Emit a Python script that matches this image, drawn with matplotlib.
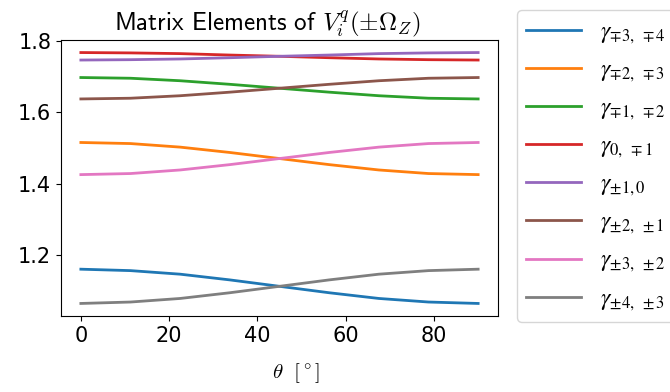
import matplotlib
matplotlib.use("Agg")
import matplotlib.pyplot as plt
from matplotlib.font_manager import FontProperties

theta = [0, 11.25, 22.5, 33.75, 45, 56.25, 67.5, 78.75, 90]

g_m3_m4 = [1.160, 1.156, 1.146, 1.130, 1.112, 1.094, 1.078, 1.068, 1.064]
g_m2_m3 = [1.515, 1.512, 1.502, 1.487, 1.470, 1.453, 1.438, 1.428, 1.425]
g_m1_m2 = [1.697, 1.695, 1.688, 1.678, 1.667, 1.656, 1.646, 1.639, 1.637]
g_0_m1 = [1.767, 1.766, 1.764, 1.760, 1.7565, 1.7525, 1.749, 1.747, 1.746]
g_p1_0 = [1.746, 1.747, 1.749, 1.7525, 1.7565, 1.760, 1.764, 1.766, 1.767]
g_p2_p1 = [1.637, 1.639, 1.646, 1.656, 1.667, 1.678, 1.688, 1.695, 1.697]
g_p3_p2 = [1.425, 1.428, 1.438, 1.453, 1.470, 1.487, 1.502, 1.512, 1.515]
g_p4_p3 = [1.064, 1.068, 1.078, 1.094, 1.112, 1.130, 1.146, 1.156, 1.160]

series = [g_m3_m4, g_m2_m3, g_m1_m2, g_0_m1, g_p1_0, g_p2_p1, g_p3_p2, g_p4_p3]
labels = [
    r"$\gamma_{\mp3,\ \mp4}$",
    r"$\gamma_{\mp2,\ \mp3}$",
    r"$\gamma_{\mp1,\ \mp2}$",
    r"$\gamma_{0,\ \mp1}$",
    r"$\gamma_{\pm1,0}$",
    r"$\gamma_{\pm2,\ \pm1}$",
    r"$\gamma_{\pm3,\ \pm2}$",
    r"$\gamma_{\pm4,\ \pm3}$",
]

plt.rcParams["font.size"] = 15
plt.rcParams["mathtext.fontset"] = "cm"

fig = plt.figure(figsize=(6.7, 3.92), dpi=100)
ax = fig.add_axes([61 / 670, 1 - 316 / 392, 437 / 670, 276 / 392])

for ys, lab in zip(series, labels):
    ax.plot(theta, ys, lw=2, label=lab)

ax.set_yticks([1.2, 1.4, 1.6, 1.8])
ax.set_xticks([0, 20, 40, 60, 80])
ax.set_title(r"Matrix Elements of $V_i^q(\pm\Omega_Z)$", fontsize=18,
             fontfamily="cmss10", pad=7, x=0.4725)
ax.set_xlabel(r"$\theta\ \ [^\circ]$", fontsize=15)
ax.xaxis.set_label_coords(0.538, -0.165)

prop = FontProperties(size=17, math_fontfamily="stix")
leg = ax.legend(loc="upper left", bbox_to_anchor=(517 / 670, 1 - 10 / 392),
                bbox_transform=fig.transFigure, borderaxespad=0,
                prop=prop, handlelength=2.3, handletextpad=0.8,
                labelspacing=0.48, borderpad=0.4)

fig.savefig("out.png", dpi=100)
